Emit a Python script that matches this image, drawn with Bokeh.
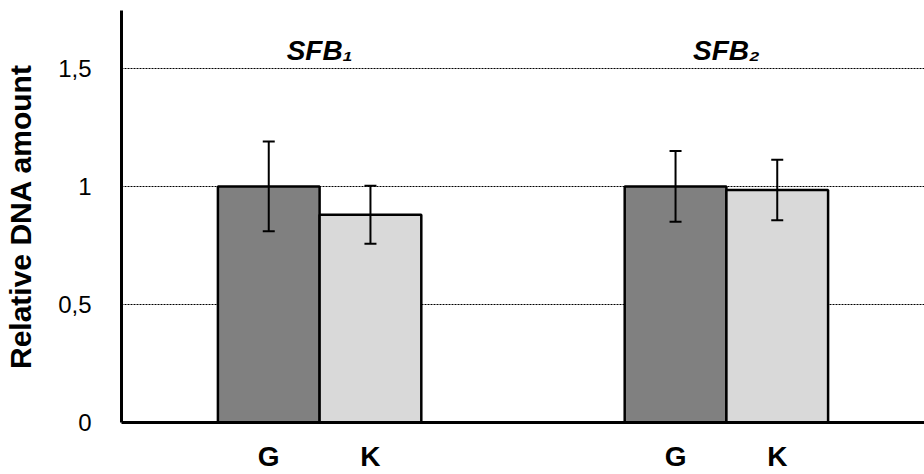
from bokeh.plotting import figure
from bokeh.models import (FactorRange, Range1d, ColumnDataSource, Whisker, TeeHead,
                          FixedTicker, CustomJSTickFormatter)
from bokeh.core.properties import value
from bokeh.embed import file_html
from bokeh.resources import INLINE

# ---- data ----
groups = ["SFB₁", "SFB₂"]
conditions = ["G", "K"]
g_means = [1.00, 1.00]
k_means = [0.88, 0.985]
g_errors = [0.19, 0.15]
k_errors = [0.123, 0.128]
y_ticks = [0, 0.5, 1, 1.5]
y_max = 1.745
group_label_y = 1.576

FONT = "Liberation Sans"

factors = []
means = []
errors = []
for i, g in enumerate(groups):
    factors += [(g, "G"), (g, "K")]
    means += [g_means[i], k_means[i]]
    errors += [g_errors[i], k_errors[i]]
colors = ["#808080" if f[1] == "G" else "#d9d9d9" for f in factors]

src = ColumnDataSource(dict(
    x=factors, top=means,
    upper=[m + e for m, e in zip(means, errors)],
    lower=[m - e for m, e in zip(means, errors)],
    color=colors,
))

x_range = FactorRange(*factors, group_padding=2.0, range_padding=0.316,
                      range_padding_units="percent")
p = figure(x_range=x_range, y_range=Range1d(0, y_max), width=924, height=474,
           output_backend="svg", toolbar_location=None,
           min_border_left=121, min_border_right=0, min_border_top=10,
           min_border_bottom=50)
p.outline_line_color = None
p.background_fill_color = "white"

p.vbar(x="x", top="top", width=1.0, source=src, fill_color="color",
       line_color="black", line_width=2.5)

p.add_layout(Whisker(base="x", upper="upper", lower="lower", source=src,
                     level="overlay",
                     line_color="black", line_width=2,
                     upper_head=TeeHead(size=12, line_width=2, line_color="black"),
                     lower_head=TeeHead(size=12, line_width=2, line_color="black")))

p.text(x=groups, y=[group_label_y] * len(groups), text=groups,
       text_font=value(FONT), text_font_style="bold italic",
       text_font_size="28px", text_align="center", text_baseline="alphabetic",
       text_color="black")

# y axis
p.yaxis.ticker = FixedTicker(ticks=y_ticks)
p.yaxis.formatter = CustomJSTickFormatter(code="return tick.toString().replace('.', ',');")
p.yaxis.axis_line_width = 3
p.yaxis.axis_line_color = "black"
p.yaxis.major_tick_line_color = None
p.yaxis.minor_tick_line_color = None
p.yaxis.major_label_standoff = 24
p.yaxis.major_label_text_font = FONT
p.yaxis.major_label_text_font_size = "24px"
p.yaxis.major_label_text_color = "black"
p.yaxis.axis_label = "Relative DNA amount"
p.yaxis.axis_label_text_font = FONT
p.yaxis.axis_label_text_font_style = "bold"
p.yaxis.axis_label_text_font_size = "30px"
p.yaxis.axis_label_text_color = "black"
p.yaxis.axis_label_standoff = 18

# x axis
p.xaxis.axis_line_width = 3
p.xaxis.axis_line_color = "black"
p.xaxis.major_tick_line_color = None
p.xaxis.minor_tick_line_color = None
p.xaxis.major_label_standoff = 12
p.xaxis.major_label_text_font = FONT
p.xaxis.major_label_text_font_style = "bold"
p.xaxis.major_label_text_font_size = "28px"
p.xaxis.major_label_text_color = "black"
p.xaxis.group_text_font_size = "0px"
p.xaxis.group_text_alpha = 0
p.xaxis.separator_line_alpha = 0

# grid
p.xgrid.grid_line_color = None
p.ygrid.ticker = FixedTicker(ticks=y_ticks[1:])
p.ygrid.grid_line_color = "black"
p.ygrid.grid_line_width = 1
p.ygrid.grid_line_dash = "2 1"

open("out.html", "w").write(file_html(p, INLINE))
